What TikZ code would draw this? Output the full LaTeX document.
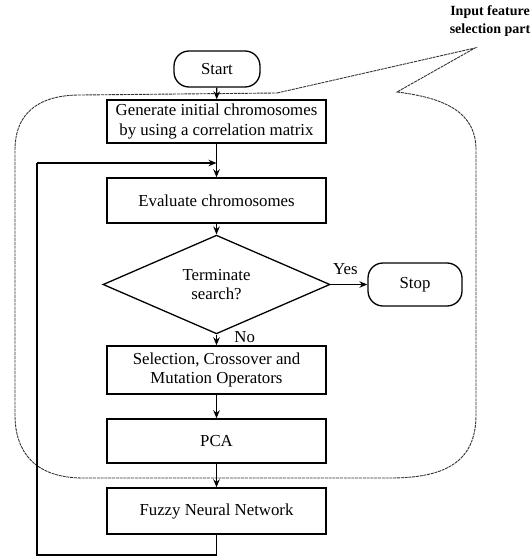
\documentclass[tikz,border=0pt]{standalone}
\usepackage{fontspec}
\setmainfont{Liberation Serif}
\usetikzlibrary{shapes.geometric,arrows.meta}
\begin{document}
\begin{tikzpicture}[x=1pt,y=-1pt,
  every node/.style={font=\fontsize{16.8}{19.5}\selectfont},
  procbox/.style={draw,line width=1.4pt,minimum width=219pt,align=center,inner sep=2pt},
  termbox/.style={draw,line width=1.3pt,rounded corners=15pt,align=center},
  decbox/.style={draw,line width=1.3pt,shape=diamond,minimum width=227pt,minimum height=69pt,inner sep=0pt,align=center},
  conn/.style={line width=1.3pt},
  arr/.style={conn,-{Stealth[length=8pt,width=6.5pt]}},
  region/.style={line width=0.9pt,dash pattern=on 3pt off 0.8pt,black!80},
  note/.style={font=\fontsize{14}{18}\selectfont\bfseries,align=center}
]
\useasboundingbox (0,0) rectangle (532,559);

% outer callout region
\coordinate (rA) at (277,93);
\coordinate (rTip) at (475,48);
\coordinate (rB) at (397,92);
\draw[region] (rA) -- (rTip) -- (rB)
  .. controls (445,98) and (476,112) .. (476,150)
  -- (476,415)
  .. controls (476,462) and (445,478) .. (390,478)
  -- (83,478)
  .. controls (35,478) and (15,452) .. (15,415)
  -- (15,150)
  .. controls (15,112) and (40,95) .. (80,95)
  -- (rA);

\node[note] (lbl) at (490,21) {Input feature\\selection part};

\node[termbox,minimum width=86pt,minimum height=36pt] (start) at (217,69) {Start};
\node[procbox,minimum height=43pt] (gen) at (216.5,121.5) {Generate initial chromosomes\\by using a correlation matrix};
\node[procbox,minimum height=45pt] (eval) at (216.5,200.5) {Evaluate chromosomes};
\node[decbox] (term) at (216.5,284.5) {Terminate\\search?};
\node[termbox,minimum width=94pt,minimum height=43pt] (stop) at (415,284.5) {Stop};
\node[procbox,minimum height=48pt] (sel) at (216.5,370) {Selection, Crossover and\\Mutation Operators};
\node[procbox,minimum height=44pt] (pca) at (216.5,441) {PCA};
\node[procbox,minimum height=46pt] (fnn) at (216.5,511) {Fuzzy Neural Network};

\draw[arr] (start) -- (gen);
\draw[arr] (gen) -- (eval);
\draw[arr] (eval) -- (term);
\draw[arr] (term.east) -- (stop.west) node[pos=0.4,above=6pt] (yes) {Yes};
\draw[arr] (term.south) -- (sel.north) node[pos=0.25,right=14pt] (no) {No};
\draw[arr] (sel) -- (pca);
\draw[arr] (pca) -- (fnn);

\coordinate (fbA) at (216.5,555);
\coordinate (fbB) at (37,555);
\coordinate (fbC) at (37,163);
\coordinate (fbD) at (216.5,163);
\draw[conn] (fnn.south) -- (fbA) -- (fbB) -- (fbC);
\draw[arr] (fbC) -- (fbD);
\end{tikzpicture}
\end{document}
